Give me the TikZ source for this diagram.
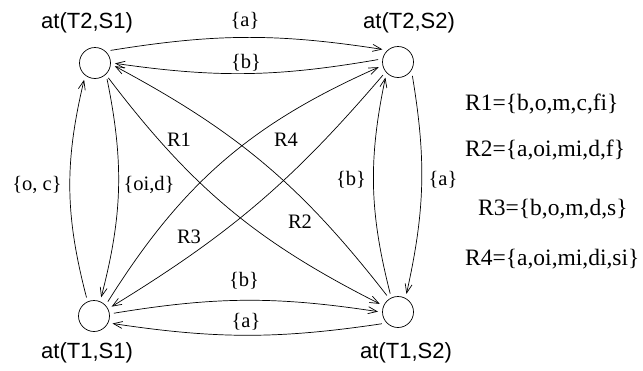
\documentclass[tikz,border=0pt]{standalone}
\usepackage{fontspec}
\setmainfont{Liberation Serif}
\newfontfamily\labsans{Liberation Sans}
\usetikzlibrary{arrows.meta}
\begin{document}
\begin{tikzpicture}[x=1pt,y=-1pt,
  state/.style={circle,draw,minimum size=31pt,inner sep=0pt,outer sep=4.5pt,line width=0.7pt},
  conn/.style={line width=0.7pt,-{Straight Barb[length=9pt,width=7pt]}},
  lab/.style={font=\fontsize{20.5}{24}\selectfont,inner sep=0pt},
  place/.style={font=\labsans\fontsize{22}{26}\selectfont,inner sep=0pt},
  rel/.style={font=\fontsize{23.5}{28}\selectfont,anchor=west,inner sep=0pt}]
\useasboundingbox (0,0) rectangle (643,370);
% states
\node[state] (A) at (95,63) {};
\node[state] (B) at (398,62) {};
\node[state] (C) at (94,316) {};
\node[state] (D) at (398,312) {};
% state names
\node[place] (nA) at (87,23) {at(T2,S1)};
\node[place] (nB) at (409,23) {at(T2,S2)};
\node[place] (nC) at (87,353) {at(T1,S1)};
\node[place] (nD) at (406,353) {at(T1,S2)};
% connectors
\draw[conn] (A.39) to[bend left=9] (B.141);
\draw[conn] (B.173) to[bend left=9] (A.-1);
\draw[conn] (C.46) to[bend left=17] (B.195);
\draw[conn] (B.221) to[bend left=9] (C.28);
\draw[conn] (D.113) to[bend left=13] (B.231);
\draw[conn] (B.316) to[bend left=11] (D.65);
\draw[conn] (D.124) to[bend right=12] (A.-9);
\draw[conn] (A.-48) to[bend right=13] (D.156);
\draw[conn] (C.8) to[bend left=9] (D.179);
\draw[conn] (D.216) to[bend left=8.5] (C.-22);
\draw[conn] (C.112) to[bend left=14] (A.237);
\draw[conn] (A.-53) to[bend left=13] (C.69);
% edge labels
\node[lab] (la1) at (245,21) {\{a\}};
\node[lab] (lb1) at (246,63) {\{b\}};
\node[lab] (loc) at (37,185) {\{o, c\}};
\node[lab] (loid) at (149,185) {\{oi,d\}};
\node[lab] (lb2) at (351,180) {\{b\}};
\node[lab] (la2) at (443,180) {\{a\}};
\node[lab] (lb3) at (244,281) {\{b\}};
\node[lab] (la3) at (246,322) {\{a\}};
\node[lab] (r1) at (179,140) {R1};
\node[lab] (r4) at (286,140) {R4};
\node[lab] (r3) at (189,237) {R3};
\node[lab] (r2) at (300,222) {R2};
% relation list
\node[rel] (d1) at (465,104.5) {R1=\{b,o,m,c,f\kern0pt i\}};
\node[rel] (d2) at (465,150.5) {R2=\{a,oi,mi,d,f\}};
\node[rel] (d3) at (478,209.5) {R3=\{b,o,m,d,s\}};
\node[rel] (d4) at (465,259) {R4=\{a,oi,mi,di,si\}};
\end{tikzpicture}
\end{document}
